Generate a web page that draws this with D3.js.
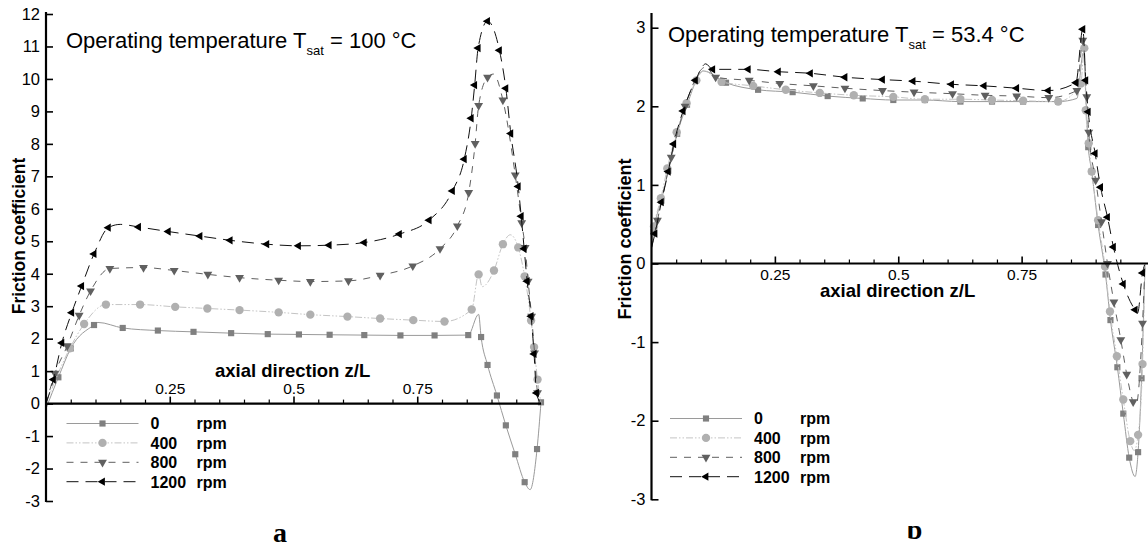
<!DOCTYPE html>
<html>
<head>
<meta charset="utf-8">
<script src="https://cdn.jsdelivr.net/npm/d3@7"></script>
<style>
  body { margin: 0; background: #fff; }
  svg { display: block; font-family: "Liberation Sans", Arial, sans-serif; }
</style>
</head>
<body>
<div id="chart"></div>
<script>
// legend text
const rpmLabels = ["0", "400", "800", "1200"];
const rpmUnit = "rpm";

// panel a : T_sat = 100 °C   [z/L, friction coefficient]
const aRpm0 = [[0.025,0.81],[0.05,1.70],[0.097,2.42],[0.155,2.33],[0.226,2.25],[0.298,2.21],[0.374,2.17],[0.448,2.14],[0.511,2.13],[0.573,2.12],[0.643,2.11],[0.716,2.10],[0.785,2.10],[0.853,2.11],[0.879,2.05],[0.892,1.19],[0.911,0.25],[0.929,-0.67],[0.948,-1.56],[0.967,-2.42],[0.992,-1.40],[1.0,0.04]];
const aRpm0Curve = [[0,-0.15],[0.105,2.5],[0.874,2.75],[0.978,-2.65]];
const aRpm400 = [[0.048,1.70],[0.077,2.45],[0.121,3.05],[0.19,3.05],[0.261,2.98],[0.326,2.93],[0.391,2.88],[0.47,2.81],[0.534,2.74],[0.609,2.68],[0.675,2.62],[0.742,2.57],[0.805,2.53],[0.86,2.90],[0.874,3.98],[0.905,4.10],[0.923,4.91],[0.954,4.81],[0.967,3.92],[0.98,2.56],[0.986,1.74],[0.993,0.74]];
const aRpm400Curve = [[0,0],[0.881,3.6],[0.938,5.2],[1.0,0]];
const aRpm800 = [[0.018,0.93],[0.043,1.78],[0.067,2.72],[0.09,3.47],[0.129,4.16],[0.197,4.19],[0.259,4.10],[0.327,3.98],[0.391,3.88],[0.47,3.80],[0.534,3.76],[0.611,3.78],[0.675,3.95],[0.741,4.24],[0.796,4.77],[0.831,5.47],[0.854,6.50],[0.867,8.01],[0.874,9.18],[0.892,10.05],[0.923,9.35],[0.948,7.04],[0.961,5.57],[0.968,4.81],[0.974,3.77],[0.981,2.69],[0.987,1.56],[0.993,0.33]];
const aRpm800Curve = [[0,0],[0.904,10.15],[1.0,0]];
const aRpm1200 = [[0.015,0.74],[0.032,1.87],[0.052,2.80],[0.072,3.62],[0.097,4.61],[0.126,5.42],[0.187,5.44],[0.247,5.30],[0.311,5.16],[0.372,5.03],[0.446,4.91],[0.51,4.86],[0.572,4.88],[0.643,4.96],[0.714,5.22],[0.774,5.65],[0.821,6.55],[0.845,7.53],[0.859,8.79],[0.866,9.81],[0.873,10.95],[0.892,11.78],[0.916,10.88],[0.929,9.71],[0.939,8.32],[0.954,6.69],[0.96,5.77],[0.966,4.77],[0.972,3.77],[0.98,2.69],[0.986,1.53],[0.991,0.33]];
const aRpm1200Curve = [[0,0],[0.15,5.52],[1.0,0]];

// panel b : T_sat = 53.4 °C
const bRpm0 = [[0.004,0.40],[0.02,0.80],[0.034,1.18],[0.052,1.65],[0.072,2.02],[0.151,2.30],[0.216,2.21],[0.286,2.18],[0.357,2.13],[0.428,2.10],[0.49,2.08],[0.554,2.08],[0.626,2.06],[0.69,2.06],[0.753,2.06],[0.824,2.06],[0.885,1.48],[0.892,1.17],[0.905,0.49],[0.92,-0.14],[0.93,-0.72],[0.944,-1.32],[0.956,-1.91],[0.968,-2.47],[0.986,-2.40],[0.993,-1.46]];
const bRpm0Curve = [[0,0.2],[0.105,2.45],[0.862,2.1],[0.875,2.68],[0.98,-2.71],[1.0,0]];
const bRpm400 = [[0.005,0.47],[0.019,0.83],[0.032,1.21],[0.051,1.67],[0.071,2.04],[0.091,2.33],[0.142,2.31],[0.206,2.26],[0.272,2.21],[0.341,2.17],[0.41,2.14],[0.49,2.12],[0.554,2.09],[0.626,2.09],[0.69,2.08],[0.753,2.07],[0.824,2.06],[0.87,2.29],[0.877,2.74],[0.88,1.95],[0.886,1.53],[0.892,1.17],[0.905,0.55],[0.919,-0.04],[0.929,-0.61],[0.943,-1.18],[0.956,-1.73],[0.97,-2.26],[0.986,-2.18],[0.995,-1.28]];
const bRpm400Curve = [[0,0.25],[0.105,2.45],[0.978,-2.38],[1.0,0]];
const bRpm800 = [[0.012,0.55],[0.04,1.35],[0.068,2.0],[0.13,2.37],[0.198,2.33],[0.26,2.29],[0.328,2.26],[0.392,2.23],[0.468,2.20],[0.532,2.18],[0.61,2.16],[0.676,2.14],[0.74,2.13],[0.805,2.11],[0.862,2.20],[0.874,2.84],[0.882,2.12],[0.886,1.67],[0.9,1.06],[0.912,0.53],[0.924,0.0],[0.937,-0.49],[0.951,-0.97],[0.963,-1.41],[0.976,-1.76],[0.995,-0.76]];
const bRpm800Curve = [[0,0.2],[0.11,2.5],[0.982,-1.8],[1.0,0]];
const bRpm1200 = [[0.007,0.38],[0.02,0.78],[0.034,1.17],[0.045,1.52],[0.064,1.94],[0.089,2.33],[0.124,2.47],[0.196,2.47],[0.257,2.44],[0.322,2.42],[0.392,2.37],[0.468,2.34],[0.53,2.32],[0.608,2.28],[0.674,2.26],[0.74,2.23],[0.804,2.20],[0.86,2.30],[0.874,2.98],[0.88,2.33],[0.885,1.93],[0.899,1.40],[0.91,0.97],[0.924,0.59],[0.936,0.21],[0.956,-0.26],[0.98,-0.59],[0.995,-0.12]];
const bRpm1200Curve = [[0,0.2],[0.11,2.54],[0.985,-0.63],[1.0,0]];

const aTicksY = d3.range(-3, 13);
const bTicksY = d3.range(-3, 4);
const ticksX = [0.25, 0.5, 0.75];

// line / marker look of each rpm series
const looks = [
  { stroke: "#9a9a9a", dash: null, fill: "#808080", sym: d3.symbolSquare, size: 38, rot: 0 },
  { stroke: "#c4c4c4", dash: "7,2,1.5,2,1.5,2", fill: "#b0b0b0", sym: d3.symbolCircle, size: 55, rot: 0 },
  { stroke: "#606060", dash: "7,7", fill: "#606060", sym: d3.symbolTriangle, size: 34, rot: 180 },
  { stroke: "#111", dash: "12,7", fill: "#000", sym: d3.symbolTriangle, size: 30, rot: -90 },
];

const svg = d3.select("#chart").append("svg").attr("width", 1148).attr("height", 547);

function drawPanel(p) {
  const x = d3.scaleLinear().domain([0, 1]).range(p.xRange);
  const y = d3.scaleLinear().domain(p.yDomain).range(p.yRange);
  const g = svg.append("g");

  // curves + markers
  const line = d3.line().x((d) => x(d[0])).y((d) => y(d[1])).curve(d3.curveMonotoneX);
  p.series.forEach((s, i) => {
    const lk = looks[i];
    const pts = s.marks.concat(s.curve).sort((a, b) => a[0] - b[0]);
    g.append("path")
      .attr("d", line(pts))
      .attr("fill", "none")
      .attr("stroke", lk.stroke)
      .attr("stroke-width", 1)
      .attr("stroke-dasharray", lk.dash);
    g.selectAll(null)
      .data(s.marks)
      .enter()
      .append("path")
      .attr("d", d3.symbol(lk.sym, lk.size))
      .attr("fill", lk.fill)
      .attr("transform", (d) => `translate(${x(d[0])},${y(d[1])}) rotate(${lk.rot})`);
  });

  // y axis
  const ya = g.append("g")
    .attr("transform", `translate(${x(0)},0)`)
    .call(d3.axisLeft(y).tickValues(p.yTicks).tickSize(-7).tickPadding(6).tickFormat((d) => String(d)));
  ya.select(".domain").remove();
  ya.attr("font-family", null).attr("font-size", null);
  ya.selectAll("line").attr("stroke", "#000").attr("stroke-width", 1.6);
  ya.selectAll("text").attr("font-size", 16.5).attr("fill", "#000");
  g.append("line")
    .attr("x1", x(0)).attr("x2", x(0))
    .attr("y1", p.yAxisTop).attr("y2", y(p.yDomain[0]) + 1)
    .attr("stroke", "#000").attr("stroke-width", 2.2);

  // x axis at zero
  const major = p.labelsAbove
    ? d3.axisTop(x).tickSize(7).tickPadding(3)
    : d3.axisBottom(x).tickSizeInner(-7).tickSizeOuter(0).tickPadding(5.5);
  const xa = g.append("g")
    .attr("transform", `translate(0,${y(0)})`)
    .call(major.tickValues(ticksX).tickFormat((d) => String(d)));
  xa.select(".domain").remove();
  xa.attr("font-family", null).attr("font-size", null);
  xa.selectAll("line").attr("stroke", "#000").attr("stroke-width", 1.6);
  xa.selectAll("text").attr("font-size", 15.5).attr("fill", "#000");

  const minorVals = d3.range(1, 21).filter((i) => i % 5 !== 0).map((i) => i * 0.05);
  const xm = g.append("g")
    .attr("transform", `translate(0,${y(0)})`)
    .call(d3.axisTop(x).tickValues(minorVals).tickSize(4).tickFormat(""));
  xm.select(".domain").remove();
  xm.selectAll("line").attr("stroke", "#000").attr("stroke-width", 1.2);

  g.append("line")
    .attr("x1", x(0)).attr("x2", p.xAxisEnd)
    .attr("y1", y(0)).attr("y2", y(0))
    .attr("stroke", "#000").attr("stroke-width", 2.2);

  // axis titles
  g.append("text")
    .attr("x", p.xTitle[0]).attr("y", p.xTitle[1])
    .attr("font-size", 18.5).attr("font-weight", "bold")
    .text("axial direction z/L");
  g.append("text")
    .attr("transform", `translate(${p.yTitle[0]},${p.yTitle[1]}) rotate(-90)`)
    .attr("text-anchor", "middle")
    .attr("font-size", p.yTitleSize).attr("font-weight", "bold")
    .text("Friction coefficient");

  // operating temperature note
  const t = g.append("text").attr("x", p.note[0]).attr("y", p.note[1]).attr("font-size", 22);
  t.append("tspan").text("Operating temperature T");
  t.append("tspan").attr("font-size", 13).attr("dy", 7).text("sat");
  t.append("tspan").attr("dy", -7).text(` = ${p.temp} °C`);

  // legend
  const lg = g.append("g").attr("transform", `translate(${p.legend[0]},${p.legend[1]})`);
  rpmLabels.forEach((lab, i) => {
    const lk = looks[i];
    const cy = i * 19.4;
    lg.append("line")
      .attr("x1", 0).attr("x2", 72).attr("y1", cy).attr("y2", cy)
      .attr("stroke", lk.stroke).attr("stroke-width", 1)
      .attr("stroke-dasharray", lk.dash);
    lg.append("path")
      .attr("d", d3.symbol(lk.sym, lk.size))
      .attr("fill", lk.fill)
      .attr("transform", `translate(36,${cy}) rotate(${lk.rot})`);
    lg.append("text").attr("x", 84).attr("y", cy + 5.8)
      .attr("font-size", 16).attr("font-weight", "bold").text(lab);
    lg.append("text").attr("x", 130).attr("y", cy + 5.8)
      .attr("font-size", 16).attr("font-weight", "bold").text(rpmUnit);
  });
}

drawPanel({
  xRange: [46, 541], yDomain: [-3, 12], yRange: [501, 14], yTicks: aTicksY,
  yAxisTop: 12, xAxisEnd: 541, labelsAbove: true,
  xTitle: [215, 377], yTitle: [25, 236], yTitleSize: 17.5,
  note: [66, 48], temp: "100", legend: [66.5, 423.5],
  series: [
    { marks: aRpm0, curve: aRpm0Curve },
    { marks: aRpm400, curve: aRpm400Curve },
    { marks: aRpm800, curve: aRpm800Curve },
    { marks: aRpm1200, curve: aRpm1200Curve },
  ],
});

drawPanel({
  xRange: [651.5, 1145], yDomain: [-3, 3], yRange: [499.3, 27.7], yTicks: bTicksY,
  yAxisTop: 13, xAxisEnd: 1148, labelsAbove: false,
  xTitle: [820, 297], yTitle: [631, 239], yTitleSize: 18,
  note: [668, 42], temp: "53.4", legend: [670, 418.5],
  series: [
    { marks: bRpm0, curve: bRpm0Curve },
    { marks: bRpm400, curve: bRpm400Curve },
    { marks: bRpm800, curve: bRpm800Curve },
    { marks: bRpm1200, curve: bRpm1200Curve },
  ],
});

// sub-figure letters (b is cut at the top in the source)
svg.append("text")
  .attr("x", 280).attr("y", 542).attr("text-anchor", "middle")
  .attr("font-family", "Liberation Serif, Times New Roman, serif")
  .attr("font-size", 28).attr("font-weight", "bold").text("a");
svg.append("clipPath").attr("id", "cutB")
  .append("rect").attr("x", 880).attr("y", 526).attr("width", 80).attr("height", 21);
svg.append("text")
  .attr("x", 914.5).attr("y", 539).attr("text-anchor", "middle")
  .attr("clip-path", "url(#cutB)")
  .attr("font-family", "Liberation Serif, Times New Roman, serif")
  .attr("font-size", 28).attr("font-weight", "bold").text("b");
</script>
</body>
</html>
